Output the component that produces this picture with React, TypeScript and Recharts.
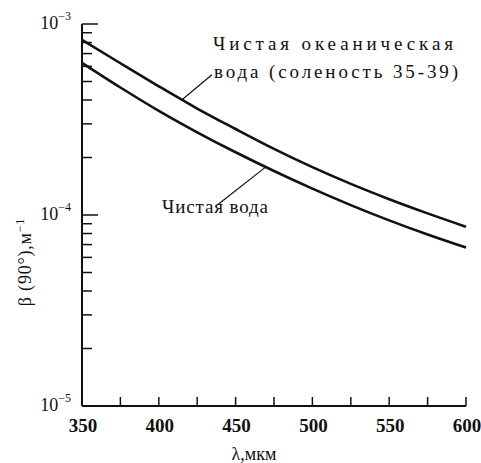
import { LineChart, Line, XAxis, YAxis, ReferenceLine } from "recharts"

// длина волны, нм (подпись на графике — мкм, как в оригинале)
const lambdas = [350, 375, 400, 425, 450, 475, 500, 525, 550, 575, 600]
// β(90°), м^-1 — чистая океаническая вода (соленость 35-39)
const oceanWater = [8.25e-4, 6.23e-4, 4.72e-4, 3.61e-4, 2.82e-4, 2.22e-4, 1.78e-4, 1.455e-4, 1.21e-4, 1.02e-4, 8.68e-5]
// β(90°), м^-1 — чистая вода
const pureWater = [6.26e-4, 4.65e-4, 3.51e-4, 2.71e-4, 2.13e-4, 1.7e-4, 1.375e-4, 1.127e-4, 9.37e-5, 7.9e-5, 6.75e-5]

const xTicks = [350, 375, 400, 425, 450, 475, 500, 525, 550, 575, 600]
const xLabelStep = 50
const yTicks = [
  1e-5, 2e-5, 3e-5, 4e-5, 5e-5, 6e-5, 7e-5, 8e-5, 9e-5,
  1e-4, 2e-4, 3e-4, 4e-4, 5e-4, 6e-4, 7e-4, 8e-4, 9e-4,
  1e-3,
]

// выноски к подписям кривых
const oceanLeader = [{ x: 434.6, y: 5.42e-4 }, { x: 415.1, y: 4.01e-4 }]
const pureLeader = [{ x: 469.1, y: 1.77e-4 }, { x: 438.5, y: 1.135e-4 }]

const data = lambdas.map((l, i) => ({ lambda: l, ocean: oceanWater[i], pure: pureWater[i] }))

const ink = "#111"
const serif = "Liberation Serif, DejaVu Serif, serif"

const isDecade = (v: number) => Math.abs(Math.log10(v) - Math.round(Math.log10(v))) < 1e-6

const LeftTick = (p: any) => {
  const { x, y, payload } = p
  const v = payload.value
  const major = isDecade(v)
  const e = Math.round(Math.log10(v))
  return (
    <g>
      <line x1={x} y1={y} x2={x + (major ? 16 : 10)} y2={y} stroke={ink} strokeWidth={1.5} />
      {major && (
        <text x={x - 11} y={y + 5} textAnchor="end" fontFamily={serif} fontSize={18} fill={ink}>
          10
          <tspan dy={-9} fontSize={12}>
            −{-e}
          </tspan>
        </text>
      )}
    </g>
  )
}

const RightTick = (p: any) => {
  const { x, y, payload } = p
  const major = isDecade(payload.value)
  return <line x1={x} y1={y} x2={x - (major ? 12 : 10)} y2={y} stroke={ink} strokeWidth={1.5} />
}

const BottomTick = (p: any) => {
  const { x, y, payload } = p
  const v = payload.value
  return (
    <g>
      <line x1={x} y1={y} x2={x} y2={y - 9} stroke={ink} strokeWidth={1.5} />
      {v % xLabelStep === 0 && (
        <text x={x + 1} y={y + 26} textAnchor="middle" fontFamily={serif} fontSize={19} fontWeight="bold" fill={ink}>
          {v}
        </text>
      )}
    </g>
  )
}

const TopTick = (p: any) => {
  const { x, y } = p
  return <line x1={x} y1={y} x2={x} y2={y + 10} stroke={ink} strokeWidth={1.5} />
}

export default function App() {
  return (
    <div style={{ position: "absolute", left: 0, top: 0, background: "#fff" }}>
      <LineChart width={481} height={463} data={data} margin={{ top: 24, right: 15, bottom: 0, left: 0 }}>
        <XAxis
          xAxisId="b"
          dataKey="lambda"
          type="number"
          domain={[350, 600]}
          ticks={xTicks}
          interval={0}
          height={57}
          tickLine={false}
          tickSize={0}
          tickMargin={0}
          tick={BottomTick}
          axisLine={{ stroke: ink, strokeWidth: 2 }}
        />
        <XAxis
          xAxisId="t"
          orientation="top"
          dataKey="lambda"
          type="number"
          domain={[350, 600]}
          ticks={xTicks}
          interval={0}
          height={0}
          tickLine={false}
          tickSize={0}
          tickMargin={0}
          tick={TopTick}
          axisLine={{ stroke: ink, strokeWidth: 2 }}
        />
        <YAxis
          yAxisId="l"
          scale="log"
          type="number"
          domain={[1e-5, 1e-3]}
          allowDataOverflow
          ticks={yTicks}
          interval={0}
          width={82}
          tickLine={false}
          tickSize={0}
          tickMargin={0}
          tick={LeftTick}
          axisLine={{ stroke: ink, strokeWidth: 2 }}
        />
        <YAxis
          yAxisId="r"
          orientation="right"
          scale="log"
          type="number"
          domain={[1e-5, 1e-3]}
          allowDataOverflow
          ticks={yTicks}
          interval={0}
          width={0}
          tickLine={false}
          tickSize={0}
          tickMargin={0}
          tick={RightTick}
          axisLine={{ stroke: ink, strokeWidth: 2 }}
        />
        <Line
          xAxisId="b"
          yAxisId="l"
          dataKey="ocean"
          type="monotone"
          stroke={ink}
          strokeWidth={2.6}
          dot={false}
          isAnimationActive={false}
        />
        <Line
          xAxisId="b"
          yAxisId="l"
          dataKey="pure"
          type="monotone"
          stroke={ink}
          strokeWidth={2.6}
          dot={false}
          isAnimationActive={false}
        />
        <ReferenceLine xAxisId="b" yAxisId="l" segment={oceanLeader} stroke={ink} strokeWidth={1.2} />
        <ReferenceLine xAxisId="b" yAxisId="l" segment={pureLeader} stroke={ink} strokeWidth={1.2} />
        <text x={213} y={50} textLength={240} lengthAdjust="spacing" fontFamily={serif} fontSize={19} fill={ink}>
          Чистая океаническая
        </text>
        <text x={214} y={78} textLength={244} lengthAdjust="spacing" fontFamily={serif} fontSize={19} fill={ink}>
          вода (соленость 35-39)
        </text>
        <text x={162} y={213} textLength={106} lengthAdjust="spacing" fontFamily={serif} fontSize={19} fill={ink}>
          Чистая вода
        </text>
        <text
          x={0}
          y={0}
          transform="translate(31 262) rotate(-90)"
          textAnchor="middle"
          fontFamily={serif}
          fontSize={18}
          letterSpacing={0.8}
          fill={ink}
        >
          β (90°),м
          <tspan dy={-7} fontSize={12}>
            −1
          </tspan>
        </text>
        <text x={254} y={460} textAnchor="middle" fontFamily={serif} fontSize={18} fill={ink}>
          λ,мкм
        </text>
      </LineChart>
    </div>
  )
}
